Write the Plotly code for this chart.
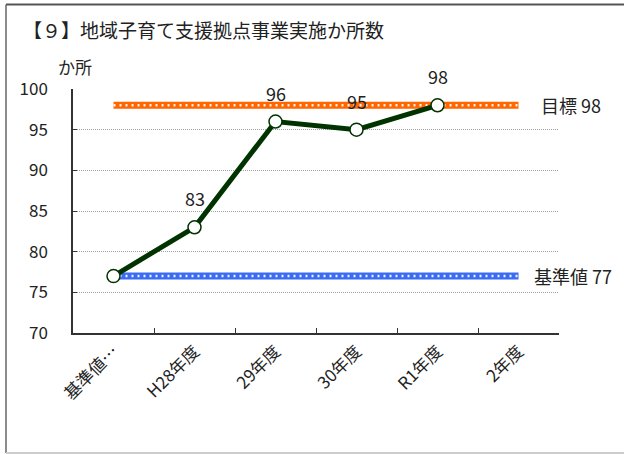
import plotly.graph_objects as go

categories = ["基準値…", "H28年度", "29年度", "30年度", "R1年度", "2年度"]
actual = [77, 83, 96, 95, 98, None]
show_label = [False, True, True, True, True, False]
target = 98
baseline = 77
title = "【９】地域子育て支援拠点事業実施か所数"
unit = "か所"

W, H = 624, 454
L, R, T, B = 73, 65, 89, 121
pw, ph = W - L - R, H - T - B

def px_x(x):
    return (x - L) / pw

def px_y(y):
    return (H - B - y) / ph

font = "Noto Sans CJK JP, Noto Sans, sans-serif"
txt = "#222222"
fig = go.Figure()

# target line (orange, with white dots)
fig.add_trace(go.Scatter(x=categories, y=[target] * len(categories), mode="lines",
                         line=dict(color="#FF6600", width=7), hoverinfo="skip", showlegend=False))
fig.add_trace(go.Scatter(x=categories, y=[target] * len(categories), mode="lines",
                         line=dict(color="#FFF4EC", width=2.5, dash="2px,4px"), hoverinfo="skip", showlegend=False))
# baseline line (blue, with white dots)
fig.add_trace(go.Scatter(x=categories, y=[baseline] * len(categories), mode="lines",
                         line=dict(color="#3A6BF2", width=7), hoverinfo="skip", showlegend=False))
fig.add_trace(go.Scatter(x=categories, y=[baseline] * len(categories), mode="lines",
                         line=dict(color="#EEF2FF", width=2.5, dash="2px,4px"), hoverinfo="skip", showlegend=False))
# actual
fig.add_trace(go.Scatter(x=categories, y=actual, mode="lines+markers",
                         line=dict(color="#003300", width=5),
                         marker=dict(size=13, color="white", line=dict(color="#003300", width=1.5)),
                         showlegend=False, cliponaxis=False))

for c, v, s in zip(categories, actual, show_label):
    if s and v is not None:
        fig.add_annotation(x=c, y=v, text=str(v), showarrow=False, yshift=29, yanchor="middle",
                           font=dict(size=18, color=txt, family=font))

fig.add_annotation(x=categories[-1], y=target, text=f"目標 {target}", showarrow=False,
                   xanchor="left", xshift=20, font=dict(size=18, color=txt, family=font))
fig.add_annotation(x=categories[-1], y=baseline, text=f"基準値 {baseline}", showarrow=False,
                   xanchor="left", xshift=13, font=dict(size=18, color=txt, family=font))

fig.add_annotation(xref="paper", yref="paper", x=px_x(21), y=px_y(30), text=title, showarrow=False,
                   xanchor="left", yanchor="middle", font=dict(size=19, color=txt, family=font))
fig.add_annotation(xref="paper", yref="paper", x=px_x(56), y=px_y(66), text=unit, showarrow=False,
                   xanchor="left", yanchor="middle", font=dict(size=17, color=txt, family=font))

# chart border (top, left, bottom)
fig.add_shape(type="line", xref="paper", yref="paper", x0=px_x(6), x1=px_x(W), y0=px_y(4.5), y1=px_y(4.5),
              line=dict(color="#555555", width=2))
fig.add_shape(type="line", xref="paper", yref="paper", x0=px_x(6), x1=px_x(6), y0=px_y(4.5), y1=px_y(453),
              line=dict(color="#666666", width=1.5))
fig.add_shape(type="line", xref="paper", yref="paper", x0=px_x(6), x1=px_x(W), y0=px_y(453), y1=px_y(453),
              line=dict(color="#cccccc", width=2))

fig.update_layout(
    width=W, height=H, margin=dict(l=L, r=R, t=T, b=B),
    paper_bgcolor="white", plot_bgcolor="white",
    font=dict(family=font, size=16, color=txt),
    xaxis=dict(type="category", tickangle=-45, tickson="boundaries", ticks="inside", ticklen=5,
               tickcolor="#333333", showline=True, linecolor="#333333", linewidth=1.5,
               showgrid=False, tickfont=dict(size=17), range=[-0.5, 5.5], fixedrange=True),
    yaxis=dict(range=[70, 100], dtick=5, ticks="inside", ticklen=4, tickcolor="#333333",
               showline=True, linecolor="#333333", linewidth=1.5,
               showgrid=True, gridcolor="#a0a0a0", griddash="1px,1px", gridwidth=1,
               tickfont=dict(size=17), ticklabelstandoff=20, zeroline=False, fixedrange=True),
)

fig.write_html("out.html", config={"displayModeBar": False},
               post_script="document.body.style.margin='0';document.body.style.overflow='hidden';")
